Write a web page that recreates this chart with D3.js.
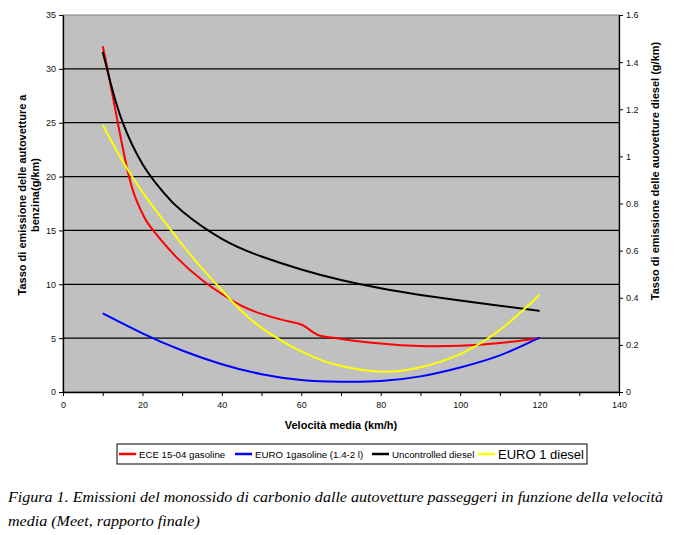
<!DOCTYPE html>
<html>
<head>
<meta charset="utf-8">
<script src="https://cdn.jsdelivr.net/npm/d3@7"></script>
<style>
  body { margin: 0; background: #fff; }
  svg { display: block; font-family: "Liberation Sans", Arial, sans-serif; }
</style>
</head>
<body>
<div id="chart"></div>
<script>
// gasoline series (left axis, g/km)
const eceSpeed = [10, 11.2, 13.8, 16.5, 18.5, 20.5, 22.7, 28.6, 35, 40, 45, 50, 55, 59, 61, 63, 65, 67, 70, 80, 90, 100, 110, 120];
const eceValue = [32.1, 30.0, 25.0, 20.2, 17.8, 16.2, 15.0, 12.5, 10.4, 9.1, 8.0, 7.25, 6.72, 6.38, 6.07, 5.54, 5.2, 5.08, 4.93, 4.5, 4.27, 4.3, 4.55, 5.0];

const euroGasSpeed = [10, 20, 30, 40, 50, 60, 70, 80, 90, 100, 110, 120];
const euroGasValue = [7.3, 5.45, 3.85, 2.58, 1.65, 1.12, 0.96, 1.02, 1.45, 2.28, 3.4, 5.05];

// diesel series (right axis, g/km)
const uncSpeed = [10, 12, 15, 20, 25, 30, 40, 50, 60, 70, 80, 90, 100, 110, 120];
const uncValue = [1.444, 1.31, 1.145, 0.968, 0.853, 0.767, 0.65, 0.575, 0.52, 0.475, 0.44, 0.412, 0.388, 0.366, 0.344];

const euroDieselSpeed = [10, 15, 20, 25, 30, 35, 40, 45, 50, 55, 60, 65, 70, 80, 90, 100, 110, 120];
const euroDieselValue = [1.133, 0.98, 0.848, 0.735, 0.626, 0.525, 0.432, 0.343, 0.272, 0.218, 0.172, 0.135, 0.110, 0.086, 0.105, 0.161, 0.263, 0.412];

const legendNames = ["ECE 15-04 gasoline", "EURO 1gasoline (1.4-2 l)", "Uncontrolled diesel", "EURO 1 diesel"];
const colors = ["#ff0000", "#0000ff", "#000000", "#ffff00"];

const W = 676, H = 535;
const plotL = 63, plotR = 619, plotT = 15, plotB = 392;

const svg = d3.select("#chart").append("svg").attr("width", W).attr("height", H);

const x = d3.scaleLinear().domain([0, 140]).range([plotL, plotR]);
const yL = d3.scaleLinear().domain([0, 35]).range([plotB, plotT]);
const yR = d3.scaleLinear().domain([0, 1.6]).range([plotB, plotT]);

// plot area
svg.append("rect")
  .attr("x", plotL).attr("y", plotT)
  .attr("width", plotR - plotL).attr("height", plotB - plotT)
  .attr("fill", "#c0c0c0")
  .attr("stroke", "#808080");

// gridlines from left axis
svg.append("g")
  .selectAll("line")
  .data(d3.range(5, 35, 5))
  .join("line")
  .attr("x1", plotL).attr("x2", plotR)
  .attr("y1", d => yL(d)).attr("y2", d => yL(d))
  .attr("stroke", "#000").attr("stroke-width", 1.3);

// axes
function styleAxis(g) {
  g.select(".domain").attr("stroke", "#000").attr("stroke-width", 1.3);
  g.selectAll(".tick line").attr("stroke", "#000");
  g.selectAll("text").attr("fill", "#111").style("font-size", "9px");
}

svg.append("g")
  .attr("transform", `translate(${plotL},0)`)
  .call(d3.axisLeft(yL).tickValues(d3.range(0, 36, 5)).tickSize(4).tickPadding(3).tickSizeOuter(0))
  .call(styleAxis);

svg.append("g")
  .attr("transform", `translate(${plotR},0)`)
  .call(d3.axisRight(yR).tickValues(d3.range(0, 1.61, 0.2)).tickFormat(d => +d.toFixed(1)).tickSize(4).tickPadding(3).tickSizeOuter(0))
  .call(styleAxis);

svg.append("g")
  .attr("transform", `translate(0,${plotB})`)
  .call(d3.axisBottom(x).tickValues(d3.range(0, 141, 10)).tickFormat(d => d % 20 === 0 ? d : "").tickSize(4).tickPadding(6).tickSizeOuter(0))
  .call(styleAxis);

// series
const series = [
  { speed: eceSpeed, value: eceValue, y: yL },
  { speed: euroGasSpeed, value: euroGasValue, y: yL },
  { speed: uncSpeed, value: uncValue, y: yR },
  { speed: euroDieselSpeed, value: euroDieselValue, y: yR }
];

series.forEach((s, i) => {
  const line = d3.line()
    .x(d => x(d[0]))
    .y(d => s.y(d[1]))
    .curve(d3.curveNatural);
  svg.append("path")
    .datum(d3.zip(s.speed, s.value))
    .attr("d", line)
    .attr("fill", "none")
    .attr("stroke", colors[i])
    .attr("stroke-width", 2);
});

// axis titles
svg.append("text")
  .attr("transform", `translate(${(plotL + plotR) / 2},429)`)
  .attr("text-anchor", "middle")
  .style("font-size", "11px").style("font-weight", "bold")
  .text("Velocità media (km/h)");

const lt = svg.append("text")
  .attr("transform", "translate(26,195) rotate(-90)")
  .attr("text-anchor", "middle")
  .style("font-size", "11px").style("font-weight", "bold");
lt.append("tspan").attr("x", 0).attr("dy", 0).text("Tasso di emissione delle autovetture a");
lt.append("tspan").attr("x", 0).attr("dy", "1.15em").text("benzina(g/km)");

svg.append("text")
  .attr("transform", "translate(659,171) rotate(-90)")
  .attr("text-anchor", "middle")
  .style("font-size", "11px").style("font-weight", "bold")
  .text("Tasso di emissione delle auovetture diesel (g/km)");

// legend
const legendX = [119, 235, 372, 478];
const legend = svg.append("g");
legend.append("rect")
  .attr("x", 117).attr("y", 444).attr("width", 470).attr("height", 20)
  .attr("fill", "#fff").attr("stroke", "#000");

legendNames.forEach((name, i) => {
  const lx = legendX[i];
  legend.append("line")
    .attr("x1", lx).attr("x2", lx + 17)
    .attr("y1", 454).attr("y2", 454)
    .attr("stroke", colors[i]).attr("stroke-width", 2.5);
  legend.append("text")
    .attr("x", lx + 20).attr("y", i === 3 ? 458.5 : 457.5)
    .style("font-size", i === 3 ? "13px" : "9.7px")
    .attr("fill", "#000")
    .text(name);
});

// caption (reference font is wider than Liberation Serif, so stretch to its width)
const cap = svg.append("text")
  .style("font-family", "'Liberation Serif', 'Times New Roman', serif")
  .style("font-style", "italic")
  .style("font-size", "14px")
  .attr("fill", "#000");
const c1 = cap.append("tspan").attr("x", 8).attr("y", 502)
  .text("Figura 1. Emissioni del monossido di carbonio dalle autovetture passeggeri in funzione della velocità");
const c2 = cap.append("tspan").attr("x", 8).attr("y", 526)
  .text("media (Meet, rapporto finale)");
const n1 = c1.node().getComputedTextLength();
const n2 = c2.node().getComputedTextLength();
const k = 655 / n1;
c1.attr("textLength", n1 * k).attr("lengthAdjust", "spacingAndGlyphs");
c2.attr("textLength", n2 * k).attr("lengthAdjust", "spacingAndGlyphs");
</script>
</body>
</html>
